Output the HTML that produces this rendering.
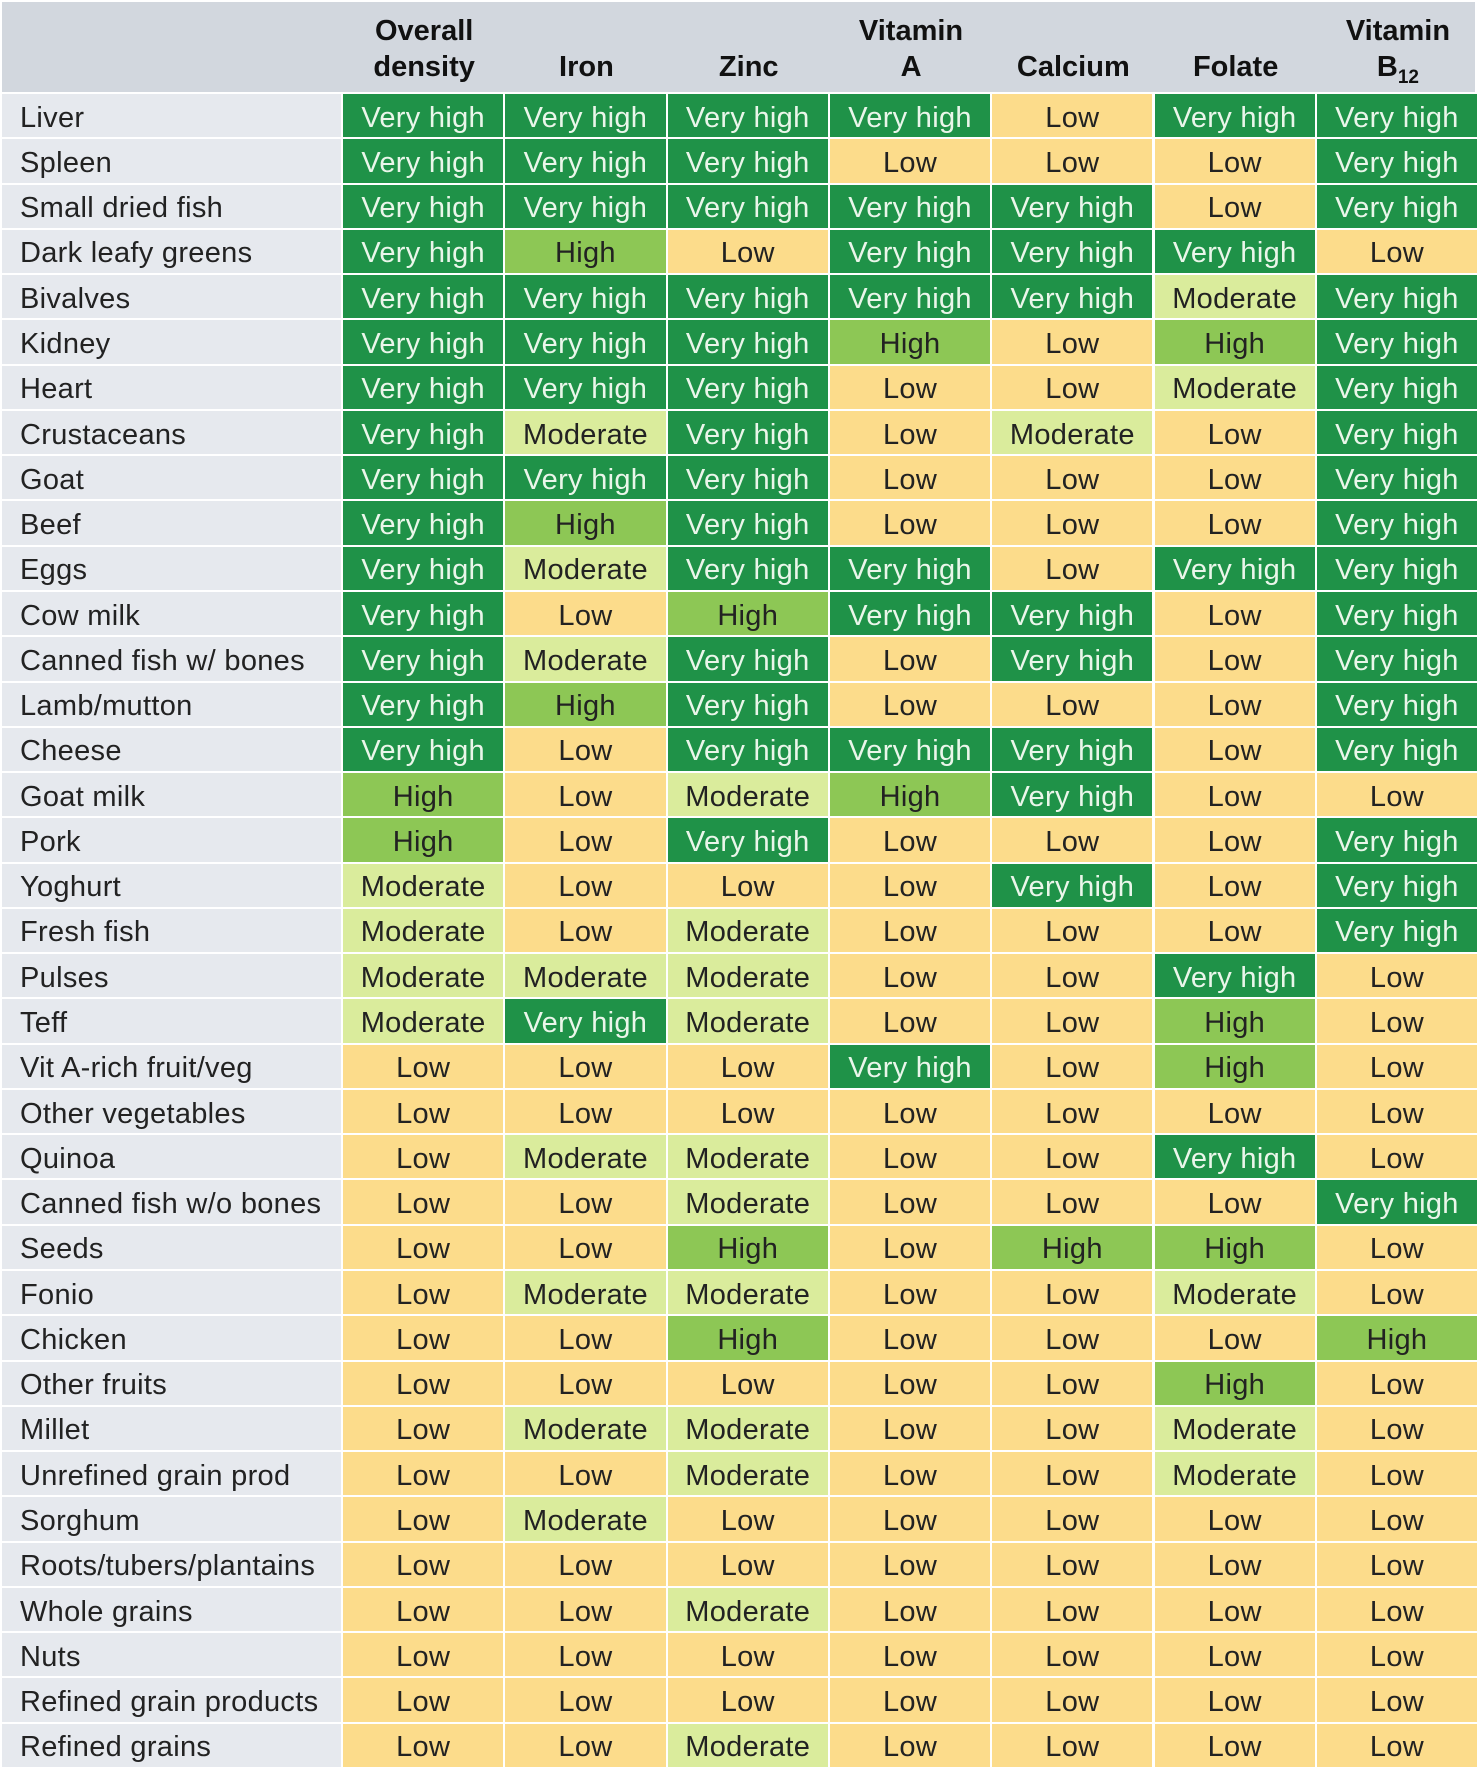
<!DOCTYPE html>
<html><head><meta charset="utf-8">
<style>
body{margin:0;width:1480px;height:1772px;background:#fff;position:relative;overflow:hidden;font-family:"Liberation Sans",sans-serif}
.c{position:absolute;display:flex;align-items:center;justify-content:center;font-size:29px;color:#222;box-sizing:border-box;letter-spacing:0.3px;padding-top:5px}
.lab{justify-content:flex-start;padding-left:18px;background:#e6e9ee}
.hd{position:absolute;background:#d2d7de}
.h{position:absolute;font-weight:bold;font-size:29px;text-align:center;line-height:36px;color:#111}
</style></head><body>
<div class="hd" style="left:2px;top:2px;width:1473px;height:90px"></div>
<div id="t"></div>
<script>
const columns=["Overall<br>density","Iron","Zinc","Vitamin<br>A","Calcium","Folate","Vitamin<br>B<sub style='font-size:19px'>12</sub>"];
const foods=["Liver","Spleen","Small dried fish","Dark leafy greens","Bivalves","Kidney","Heart","Crustaceans","Goat","Beef","Eggs","Cow milk","Canned fish w/ bones","Lamb/mutton","Cheese","Goat milk","Pork","Yoghurt","Fresh fish","Pulses","Teff","Vit A-rich fruit/veg","Other vegetables","Quinoa","Canned fish w/o bones","Seeds","Fonio","Chicken","Other fruits","Millet","Unrefined grain prod","Sorghum","Roots/tubers/plantains","Whole grains","Nuts","Refined grain products","Refined grains"];
const ratings=["VVVVLVV","VVVLLLV","VVVVVLV","VHLVVVL","VVVVVMV","VVVHLHV","VVVLLMV","VMVLMLV","VVVLLLV","VHVLLLV","VMVVLVV","VLHVVLV","VMVLVLV","VHVLLLV","VLVVVLV","HLMHVLL","HLVLLLV","MLLLVLV","MLMLLLV","MMMLLVL","MVMLLHL","LLLVLHL","LLLLLLL","LMMLLVL","LLMLLLV","LLHLHHL","LMMLLML","LLHLLLH","LLLLLHL","LMMLLML","LLMLLML","LMLLLLL","LLLLLLL","LLMLLLL","LLLLLLL","LLLLLLL","LLMLLLL"];
const levelText={V:"Very high",H:"High",M:"Moderate",L:"Low"};
const levelColor={V:"#1f9248",H:"#8dc755",M:"#daec9c",L:"#fcdc8b"};
const t=document.getElementById('t');
const x0=343,cw=162.3,top0=94,rh=45.27;
columns.forEach((c,i)=>{
 const d=document.createElement('div');d.className='h';
 
 
 d.innerHTML=c;d.style.left=(x0+i*cw)+'px';d.style.width=cw+'px';
 d.style.top=(c.includes('<br>')?13:49)+'px';
 t.appendChild(d);
});
foods.forEach((f,r)=>{
 const y=top0+r*rh;
 const l=document.createElement('div');l.className='c lab';
 
 
 l.textContent=f;l.style.left='2px';l.style.top=y+'px';l.style.width='339px';l.style.height=(rh-2)+'px';
 t.appendChild(l);
 ratings[r].split('').forEach((k,i)=>{
  const d=document.createElement('div');d.className='c';
  
  
  d.textContent=levelText[k];
  d.style.left=(x0+i*cw)+'px';d.style.top=y+'px';d.style.width=(cw-2)+'px';d.style.height=(rh-2)+'px';
  d.style.background=levelColor[k];
  if(k==='V')d.style.color='#eaf6ea';
  t.appendChild(d);
 });
});
</script>
</body></html>
